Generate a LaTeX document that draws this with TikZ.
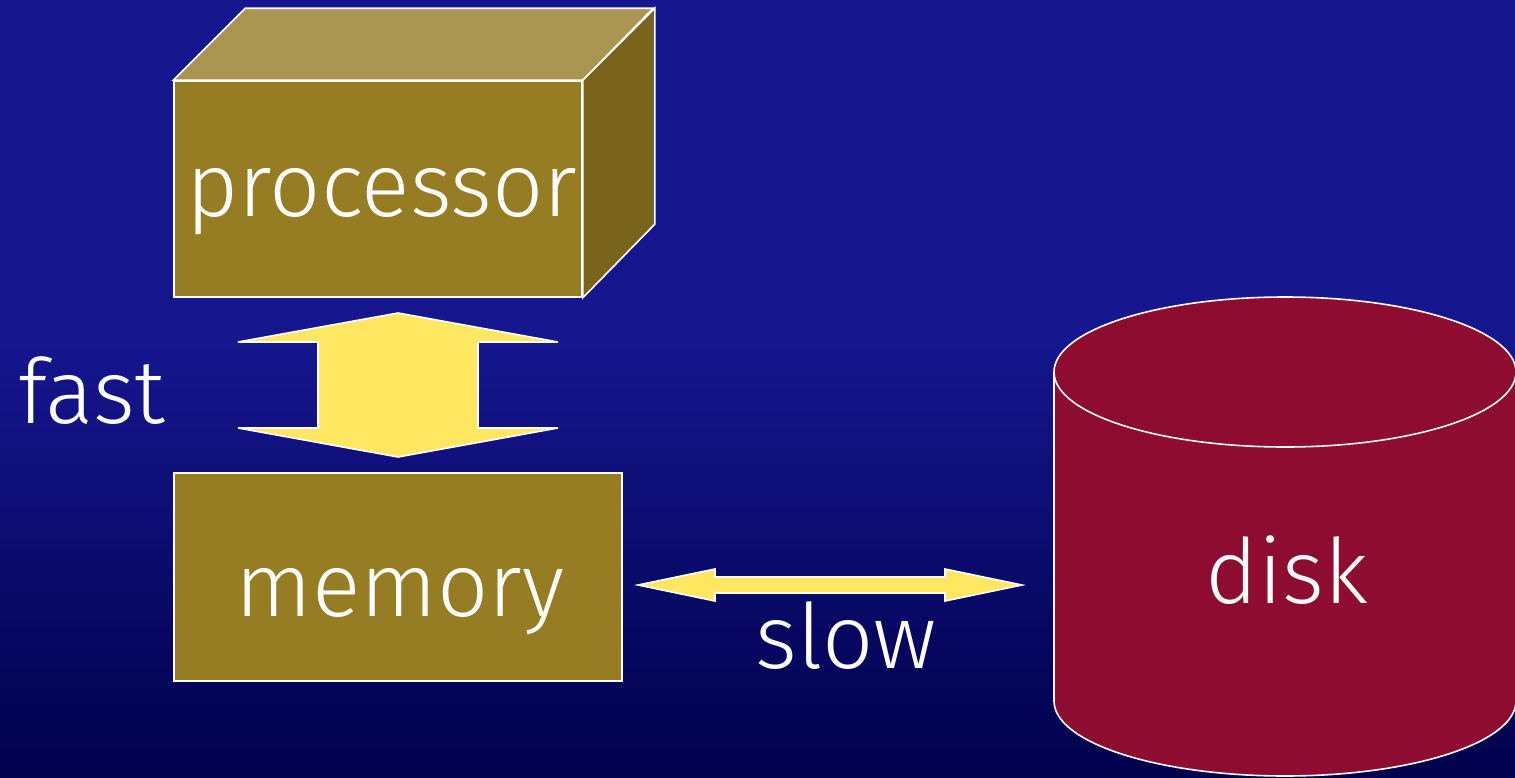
\documentclass[tikz,border=0pt]{standalone}
\usepackage{fontspec}
\setmainfont{Fira Sans}[UprightFont=* Light]
\usetikzlibrary{calc}
\definecolor{bgtop}{RGB}{22,22,143}
\definecolor{bgbot}{RGB}{0,0,76}
\definecolor{boxfront}{RGB}{150,125,35}
\definecolor{boxtop}{RGB}{170,150,80}
\definecolor{boxside}{RGB}{122,100,28}
\definecolor{arrowfill}{RGB}{255,231,97}
\definecolor{diskfill}{RGB}{142,12,48}
\begin{document}
\begin{tikzpicture}[x=0.5pt,y=-0.5pt,
  outl/.style={draw=white,line width=0.8pt,line join=miter},
  boxnode/.style={outl,fill=boxfront,inner sep=0pt},
  lbl/.style={text=white,font=\fontsize{45}{50}\selectfont,inner sep=0pt,anchor=base},
  blockarrow/.style={outl,fill=arrowfill}]
\useasboundingbox (0,0) rectangle (1515,777);
\fill[bgtop] (0,0) rectangle (1515,777);
\shade[top color=bgtop,bottom color=bgbot] (0,340) rectangle (1515,777);

% processor box
\node[boxnode,minimum width=204pt,minimum height=108pt] (proc) at (378,189) {};
\coordinate (ptl) at (proc.north west);
\coordinate (ptr) at (proc.north east);
\coordinate (pbr) at (proc.south east);
\draw[outl,fill=boxtop] (ptl) -- ++(72,-72) -- ++(408,0) -- (ptr) -- cycle;
\draw[outl,fill=boxside] (ptr) -- ++(72,-72) -- ++(0,216) -- (pbr) -- cycle;
\node[lbl] (proctext) at (382,216) {processor};

% memory box
\node[boxnode,minimum width=224pt,minimum height=104pt] (mem) at (398,577) {};
\node[lbl] (memtext) at (400,616) {memory};

% fast arrow
\coordinate (ftop) at (398,313);
\coordinate (fbot) at (398,457);
\draw[blockarrow] (ftop) -- (558,342) -- (478,342) -- (478,428) -- (558,428)
  -- (fbot) -- (238,428) -- (318,428) -- (318,342) -- (238,342) -- cycle;
\node[lbl] (fast) at (92,423) {fast};

% disk
\draw[outl,fill=diskfill] (1054,372) -- (1054,701)
  arc[start angle=180,end angle=0,x radius=231,y radius=75]
  -- (1516,372) arc[start angle=0,end angle=-180,x radius=231,y radius=75] -- cycle;
\draw[outl] (1054,372) arc[start angle=180,end angle=0,x radius=231,y radius=75];
\node[lbl] (disk) at (1287,603) {disk};

% slow arrow
\coordinate (sl) at (638,585);
\coordinate (sr) at (1022,585);
\draw[blockarrow] (sl) -- (715,569) -- (715,577) -- (945,577) -- (945,569) -- (sr)
  -- (945,601) -- (945,593) -- (715,593) -- (715,601) -- cycle;
\node[lbl] (slow) at (846,668) {slow};
\end{tikzpicture}
\end{document}
